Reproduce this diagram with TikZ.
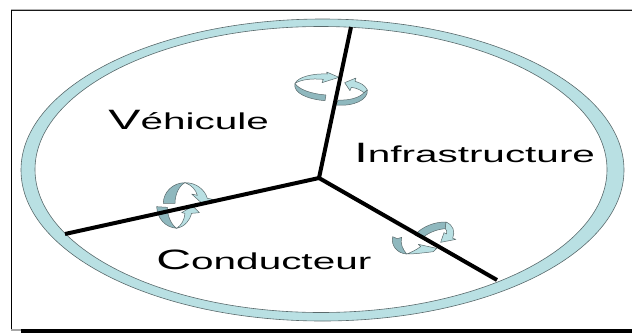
\documentclass[tikz,border=0pt]{standalone}
\usepackage{fontspec}
\usepackage{graphicx}
\setmainfont{Liberation Sans}
\definecolor{ringc}{HTML}{B9E0E3}
\definecolor{darkc}{HTML}{8FB8BE}
\definecolor{edgec}{HTML}{5A6A6C}
\tikzset{
  lightpart/.style={fill=ringc,draw=edgec,line width=0.5pt,line join=round},
  darkpart/.style={fill=darkc,draw=edgec,line width=0.5pt,line join=round},
  spoke/.style={line width=4pt,black},
  label/.style={inner sep=0pt,anchor=base west,black,xscale=1.76},
}
\newcommand{\capletter}[1]{\scalebox{0.98}[1]{\fontsize{28}{28}\selectfont #1}}
\begin{document}
\begin{tikzpicture}[x=1pt,y=-1pt]
\useasboundingbox (0,0) rectangle (632,333);
% frame
\draw[line width=1pt,gray!60] (11,9.2) -- (632,9.2);
\draw[line width=1.1pt,black!90] (11.7,10.2) -- (632,10.2);
\draw[line width=1.1pt,black] (11.7,10) -- (11.7,329);
\fill[gray!70] (11,329) rectangle (21,330.5);
\fill[black] (21,329) rectangle (632,333);
% ring
\path[fill=ringc,even odd rule,draw=edgec,line width=0.6pt]
  (322.5,170) ellipse [x radius=301.5,y radius=151]
  (321,169.5) ellipse [x radius=286,y radius=143];
% arrows top
\begin{scope}[shift={(270,60)},x=0.3333pt,y=-0.3333pt]
\path[darkpart] (75,70) .. controls (85,88) and (125,102) .. (168,105) -- (165,122) .. controls (115,118) and (68,100) .. (75,70) -- cycle;
\path[lightpart] (75,70) .. controls (85,50) and (130,40) .. (172,42) -- (170,36) -- (207,52) -- (156,68) -- (160,58) .. controls (125,55) and (95,58) .. (75,70) -- cycle;
\path[darkpart] (292,90) .. controls (295,120) and (250,140) .. (197,135) -- (205,120) .. controls (240,122) and (270,112) .. (282,98) -- cycle;
\path[lightpart] (292,90) .. controls (285,75) and (270,68) .. (255,64) -- (258,54) -- (224,68) -- (240,92) -- (244,82) .. controls (260,84) and (272,90) .. (282,98) -- cycle;
\end{scope}
% arrows left
\begin{scope}[shift={(130,170)},x=0.3333pt,y=-0.3333pt]
\path[darkpart] (100,100) .. controls (100,65) and (130,38) .. (165,38) .. controls (150,45) and (135,70) .. (135,100) -- cycle;
\path[lightpart] (165,38) .. controls (200,38) and (225,60) .. (232,85) -- (248,88) -- (218,102) -- (185,72) -- (202,76) .. controls (198,60) and (185,45) .. (165,38) -- cycle;
\path[darkpart] (80,110) .. controls (82,145) and (105,172) .. (140,175) .. controls (125,165) and (112,140) .. (112,112) -- cycle;
\path[lightpart] (140,175) .. controls (165,170) and (180,150) .. (185,130) -- (208,128) -- (188,108) -- (155,128) -- (165,130) .. controls (163,150) and (155,165) .. (140,175) -- cycle;
\end{scope}
% arrows right
\begin{scope}[shift={(370,210)},x=0.3333pt,y=-0.3333pt]
\path[darkpart] (135,75) .. controls (155,50) and (195,35) .. (228,36) -- (226,56) .. controls (200,58) and (175,68) .. (155,85) -- cycle;
\path[lightpart] (228,36) .. controls (250,45) and (256,65) .. (248,85) -- (258,88) -- (212,97) -- (222,68) -- (230,72) .. controls (232,65) and (230,60) .. (226,56) -- cycle;
\path[darkpart] (68,80) .. controls (62,105) and (80,130) .. (110,132) .. controls (98,118) and (90,100) .. (95,82) -- (82,86) -- cycle;
\path[lightpart] (110,132) .. controls (135,132) and (165,128) .. (190,125) -- (200,115) -- (145,103) -- (152,110) .. controls (138,120) and (122,128) .. (110,132) -- cycle;
\end{scope}
% spokes
\coordinate (hub) at (319,178);
\coordinate (top) at (351,27);
\coordinate (lft) at (65,234);
\coordinate (rgt) at (497,280);
\draw[spoke] (hub) -- (top);
\draw[spoke] (hub) -- (lft);
\draw[spoke] (hub) -- (rgt);
% labels
\node[label] (veh) at (108,129) {\fontsize{23}{23}\selectfont\capletter{V}éhicule};
\node[label] (inf) at (354,162) {\fontsize{23}{23}\selectfont\capletter{I}nfrastructure};
\node[label] (con) at (156,269) {\fontsize{23}{23}\selectfont\capletter{C}onducteur};
\end{tikzpicture}
\end{document}
